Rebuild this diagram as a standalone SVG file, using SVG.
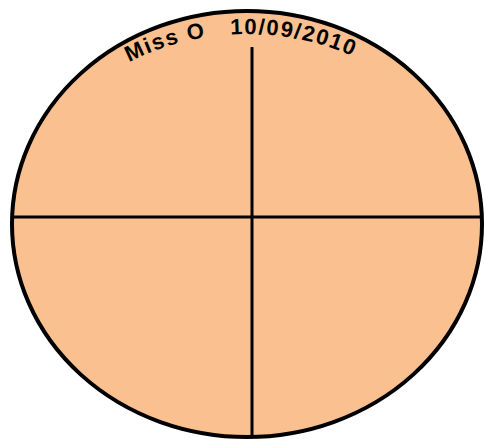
<svg xmlns="http://www.w3.org/2000/svg" width="485" height="439" viewBox="0 0 485 439">
  <style>
    .outline { fill: #FAC090; stroke: #000; stroke-width: 4; }
    .divider { stroke: #000; stroke-width: 3; fill: none; }
    .label { font-family: "Liberation Sans", Arial, sans-serif; font-weight: bold; font-size: 22px; fill: #000; letter-spacing: 1.6px; }
  </style>
  <defs>
    <path id="arc" d="M 22 224 A 225 190 0 0 1 472 224" fill="none"/>
  </defs>
  <rect width="485" height="439" fill="#fff"/>
  <g id="circle">
    <ellipse class="outline" cx="247" cy="224" rx="235" ry="213"/>
  </g>
  <g id="connectors">
    <line class="divider" x1="12" y1="217" x2="482" y2="217"/>
    <line class="divider" x1="252" y1="47" x2="252" y2="437"/>
  </g>
  <g id="title">
    <text class="label" text-anchor="middle"><textPath href="#arc" startOffset="245">Miss O</textPath></text>
    <text class="label" text-anchor="middle"><textPath href="#arc" startOffset="373">10/09/2010</textPath></text>
  </g>
</svg>
